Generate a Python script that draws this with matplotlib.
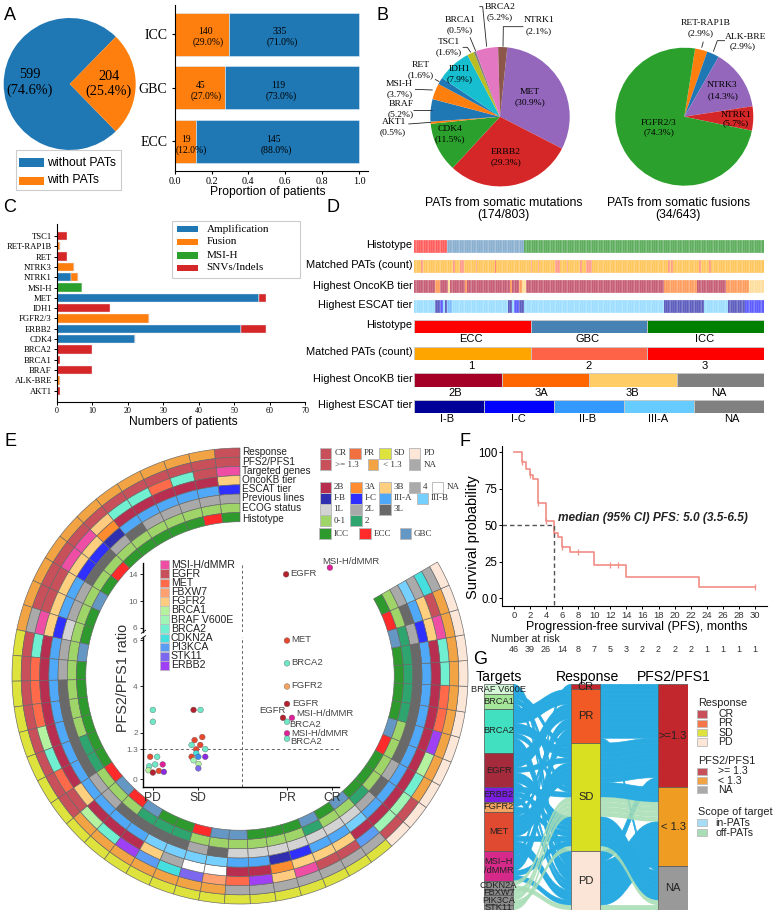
import numpy as np
import matplotlib
matplotlib.use("Agg")
import matplotlib.pyplot as plt
from matplotlib.colors import ListedColormap
from matplotlib.patches import Rectangle, PathPatch
from matplotlib.path import Path

SANS = "Liberation Sans"
SERIF = "Liberation Serif"
plt.rcParams["font.family"] = SANS

W, H = 777, 917

# ---- Panel A
pie_a_vals = [599, 204]
hist_names = ["ECC", "GBC", "ICC"]
with_pats = [19, 45, 140]
without_pats = [145, 119, 335]

# ---- Panel B
mut_names = ["MET", "ERBB2", "CDK4", "AKT1", "BRAF", "MSI-H", "RET", "IDH1", "TSC1", "BRCA1", "BRCA2", "NTRK1"]
mut_vals = [30.9, 29.3, 11.5, 0.5, 5.2, 3.7, 1.6, 7.9, 1.6, 0.5, 5.2, 2.1]
mut_cols = ["#9467bd", "#d62728", "#2ca02c", "#ff7f0e", "#1f77b4", "#ff7f0e", "#1f77b4", "#17becf", "#bcbd22", "#7f7f7f", "#e377c2", "#8c564b"]
fus_names = ["RET-RAP1B", "ALK-BRE", "NTRK3", "NTRK1", "FGFR2/3"]
fus_vals = [2.9, 2.9, 14.3, 5.7, 74.3]
fus_cols = ["#ff7f0e", "#1f77b4", "#9467bd", "#d62728", "#2ca02c"]

# ---- Panel C
c_genes = ["AKT1", "ALK-BRE", "BRAF", "BRCA1", "BRCA2", "CDK4", "ERBB2", "FGFR2/3", "IDH1", "MET", "MSI-H", "NTRK1", "NTRK3", "RET", "RET-RAP1B", "TSC1"]
c_amp = [0, 0, 0, 0, 0, 22, 52, 0, 0, 57, 0, 4, 0, 0, 0, 0]
c_fus = [0, 1, 0, 0, 0, 0, 0, 26, 0, 0, 0, 2, 5, 0, 1, 0]
c_msi = [0, 0, 0, 0, 0, 0, 0, 0, 0, 0, 7, 0, 0, 0, 0, 0]
c_snv = [1, 0, 10, 1, 10, 0, 7, 0, 15, 2, 0, 0, 0, 3, 0, 3]

# ---- Panel D (run lengths over 204 patients)
d_hist_cats = ["ECC", "GBC", "ICC"]
d_hist_runs = [19, 45, 140]
d_two_cols = [4, 23, 27, 28, 36, 68, 72, 82, 83, 84, 89, 97, 100, 101, 102, 103, 148, 150, 166, 172]
d_three_cols = [47]
d_onco_cats = ["2B", "3A", "2B", "3B", "2B", "3A", "2B", "3A", "2B", "3A", "3B", "2B", "3A", "2B", "3A", "3B"]
d_onco_runs = [12, 3, 5, 1, 9, 1, 25, 1, 4, 2, 2, 81, 19, 17, 13, 9]
d_escat_cats = ["III-A", "I-B", "I-C", "III-A", "I-B", "II-B", "III-A", "I-B", "III-A", "I-C", "I-B", "III-A", "I-B", "III-A", "I-B", "I-C"]
d_escat_runs = [12, 3, 2, 1, 1, 3, 33, 2, 1, 3, 3, 82, 23, 14, 10, 11]

# ---- Panel E (46 patients, counter-clockwise from the top)
e_response = ["CR"] + ["PR"] * 11 + ["SD"] * 22 + ["PD"] * 12
e_pfs = [">=1.3"] * 11 + ["NA"] + [">=1.3"] * 8 + ["<1.3"] * 7 + ["NA"] * 7 + [">=1.3"] * 2 + ["<1.3"] * 9 + ["NA"]
e_target = ["MSI-H/dMMR", "EGFR", "BRCA2", "MET", "BRCA2", "BRCA2", "FGFR2", "MSI-H/dMMR", "MSI-H/dMMR", "EGFR",
            "EGFR", "MSI-H/dMMR", "BRCA2", "MET", "MET", "MET", "BRCA1", "BRCA2", "MET", "EGFR",
            "BRCA1", "BRCA2", "ERBB2", "PI3KCA", "CDKN2A", "STK11", "FBXW7", "MET", "ERBB2", "FGFR2",
            "MSI-H/dMMR", "EGFR", "EGFR", "PI3KCA", "BRAF V600E", "BRAF V600E", "BRCA2", "BRCA1", "ERBB2", "MET",
            "MET", "BRCA2", "BRCA2", "MSI-H/dMMR", "EGFR", "CDKN2A"]
e_onco = ["3B"] + ["2B"] * 5 + ["3A"] + ["3B"] * 5 + ["2B"] * 7 + ["3B"] + ["2B"] * 3 + ["3B", "4", "NA", "NA", "2B", "2B", "3A", "3B", "3B", "3B"] + ["2B"] * 10 + ["3B", "3B", "4"]
e_escat = ["I-C"] + ["III-A"] * 5 + ["I-B", "I-C", "I-C", "III-A", "III-A", "I-C"] + ["III-A"] * 11 + ["III-B"] * 4 + ["III-A", "III-A", "I-B", "I-C", "III-A", "III-A", "III-B"] + ["III-A"] * 9 + ["I-C", "III-A", "III-B"]
e_prev = ["2L"] * 5 + ["3L", "2L", "3L", "3L", "2L", "2L", "1L", "2L", "2L"] + ["3L"] * 5 + ["2L", "2L"] + ["3L"] * 4 + ["2L", "3L"] + ["1L"] * 7 + ["2L", "3L", "2L"] + ["3L"] * 6 + ["2L", "3L", "2L"]
e_ecog = ["0-1"] * 17 + ["2", "2", "0-1", "0-1", "0-1", "2", "2", "2"] + ["0-1"] * 6 + ["2", "0-1", "0-1", "2"] + ["0-1"] * 4 + ["2"] * 5 + ["0-1", "0-1"]
e_hist = ["ICC", "ECC"] + ["ICC"] * 5 + ["ECC", "ICC", "GBC", "ICC", "ICC", "GBC"] + ["ICC"] * 6 + ["ECC", "GBC", "ECC", "GBC", "ICC", "ICC", "ECC", "GBC", "GBC", "ICC", "ICC", "ICC", "GBC", "ICC", "GBC", "ICC", "ICC", "ICC", "ECC", "GBC", "ICC", "ICC", "ICC", "ICC", "GBC", "ECC", "ICC"]

# scatter inside panel E
sc_x = [0, 0, -0.06, 0.096, -0.083, 0.051, 0.22, -0.098, 0, 0.134, 0.246,
        0.91, 1.067, 1.105, 0.933, 0.866, 1.06, 0.97, 1.172, 0.97, 0.866, 1.016, 1.172, 0.91, 1.022, 1.016,
        3.96, 2.98, 3, 3, 3, 3, 2.91, 3.11, 3, 3, 3]
sc_y = [2.99, 2.48, 0.97, 0.97, 0.56, 0.64, 0.64, 0.39, 0.29, 0.36, 0.32,
        2.99, 2.99, 1.82, 1.69, 1.48, 1.48, 1.29, 1.3, 1.12, 0.97, 0.97, 0.97, 0.82, 0.66, 0.47,
        15.0, 14.0, 5.98, 5.0, 4.0, 3.25, 2.65, 2.65, 2.48, 1.98, 1.75]
sc_t = ["BRCA2", "BRCA2", "MET", "BRCA2", "BRCA2", "BRCA2", "MSI-H/dMMR", "BRCA1", "EGFR", "MET", "ERBB2",
        "EGFR", "BRCA2", "MET", "MET", "BRCA2", "MET", "MET", "BRCA2", "CDKN2A", "MET", "PI3KCA", "ERBB2", "BRAF V600E", "BRCA1", "STK11",
        "MSI-H/dMMR", "EGFR", "MET", "BRCA2", "FGFR2", "EGFR", "EGFR", "MSI-H/dMMR", "BRCA2", "MSI-H/dMMR", "BRCA2"]
sc_legend = ["MSI-H/dMMR", "EGFR", "MET", "FBXW7", "FGFR2", "BRCA1", "BRAF V600E", "BRCA2", "CDKN2A", "PI3KCA", "STK11", "ERBB2"]

# ---- Panel F
km_t = [0, 1, 1.45, 1.95, 2.4, 2.95, 4, 5, 5.5, 6, 7, 10, 14, 23, 30]
km_s = [100, 93.2, 88.6, 84.5, 81.5, 65, 53, 44.5, 41.8, 35.4, 31.8, 22.8, 14.8, 7.5, 7.5]
cens_t = [1, 2, 3, 4, 5, 6, 8, 12, 13, 30]
cens_s = [93.2, 84.5, 65, 53, 44.5, 35.4, 31.8, 22.8, 22.8, 7.5]
risk_t = list(range(0, 31, 2))
risk_n = [46, 39, 26, 14, 8, 7, 5, 3, 2, 2, 2, 2, 1, 1, 1, 1]

# ---- Colours
COL_RESP = {"CR": "#C8505A", "PR": "#F2A444", "SD": "#DDE23C", "PD": "#FBE6D8"}
COL_PFS = {">=1.3": "#C8505A", "<1.3": "#F2A444", "NA": "#AAAAAA"}
COL_TGT = {"MSI-H/dMMR": "#EE4FA5", "EGFR": "#C8505A", "MET": "#FF6B4A", "FBXW7": "#FFA070", "FGFR2": "#FFCB80",
           "BRCA1": "#B5F2A0", "BRAF V600E": "#A0F5B5", "BRCA2": "#70F0D0", "CDKN2A": "#45DFE0", "PI3KCA": "#5B9CF5",
           "STK11": "#7B68EE", "ERBB2": "#A040F5"}
COL_ONCO = {"2B": "#B82E50", "3A": "#FF8C2E", "3B": "#FFCF80", "4": "#AAAAAA", "NA": "#FFFFFF"}
COL_ESCAT = {"I-B": "#2F2FB0", "I-C": "#2F2FFF", "III-A": "#4FA8F8", "III-B": "#75CFFF"}
COL_PREV = {"1L": "#D3D3D3", "2L": "#A9A9A9", "3L": "#696969"}
COL_ECOG = {"0-1": "#9FD468", "2": "#2EA56E"}
COL_HIST = {"ICC": "#2E9A2E", "ECC": "#FF2A2A", "GBC": "#6497C4"}

fig = plt.figure(figsize=(W / 100, H / 100), dpi=100)


def px_axes(x0, y0, x1, y1, **kw):
    return fig.add_axes([x0 / W, 1 - y1 / H, (x1 - x0) / W, (y1 - y0) / H], **kw)


ov = fig.add_axes([0, 0, 1, 1], zorder=20)
ov.set_xlim(0, W)
ov.set_ylim(H, 0)
ov.axis("off")
ov.patch.set_alpha(0)


def T(x, y, s, size=7, ha="center", va="center", fam=SANS, **kw):
    ov.text(x, y, s, fontsize=size, ha=ha, va=va, family=fam, **kw)


def L(xs, ys, **kw):
    ov.plot(xs, ys, color=kw.pop("color", "#222222"), lw=kw.pop("lw", 0.6), solid_capstyle="butt", **kw)


def box(x0, y0, x1, y1, fc, ec="#BBBBBB", lw=0.6, alpha=None):
    ov.add_patch(Rectangle((x0, y0), x1 - x0, y1 - y0, facecolor=fc, edgecolor=ec, lw=lw, alpha=alpha))


for s, x, y in [("A", 10, 15), ("B", 383, 15), ("C", 10, 208), ("D", 333, 208), ("E", 10, 442), ("F", 465, 441), ("G", 480, 660)]:
    T(x, y, s, size=13)

# ---- A
ax = px_axes(3.7, 18, 135.7, 150)
ax.pie(pie_a_vals, colors=["#1f77b4", "#ff7f0e"], startangle=45.7, radius=1)
ax.set_xlim(-1, 1)
ax.set_ylim(-1, 1)
T(30, 75, "599", 10.3, fam=SERIF)
T(30, 90.7, "(74.6%)", 10.3, fam=SERIF)
T(109, 76.7, "204", 10.3, fam=SERIF)
T(109, 91, "(25.4%)", 10.3, fam=SERIF)
box(16, 150, 120.7, 190, "white", ec="#CCCCCC", lw=0.8)
ov.add_patch(Rectangle((19, 158), 25.3, 9, fc="#1f77b4"))
ov.add_patch(Rectangle((19, 176.7), 25.3, 8.6, fc="#ff7f0e"))
T(46.7, 162.7, "without PATs", 8.8, ha="left")
T(46.7, 180.3, "with PATs", 8.8, ha="left")

ax = px_axes(174.7, 5, 368, 170.7)
pos = np.arange(3)
tot = np.array(with_pats) + np.array(without_pats)
frac_w = np.array(with_pats) / tot
ax.barh(pos, frac_w, height=0.8, color="#ff7f0e", edgecolor="#DDEEFF", lw=0.4)
ax.barh(pos, 1 - frac_w, left=frac_w, height=0.8, color="#1f77b4", edgecolor="#DDEEFF", lw=0.4)
ax.set_xlim(0, 1.049)
ax.set_ylim(-0.544, 2.54)
ax.set_yticks(pos, hist_names, family=SERIF, fontsize=10)
ax.set_xticks(np.arange(0, 1.01, 0.2))
ax.tick_params(axis="x", labelsize=7.3, pad=2, length=2.5, width=0.8)
ax.tick_params(axis="y", pad=3, length=2.5, width=0.8)
for lab in ax.get_xticklabels():
    lab.set_family(SERIF)
for s in ("top", "right"):
    ax.spines[s].set_visible(False)
T(267.5, 191.7, "Proportion of patients", 8.7)
a_rows = [(31, 42, "140", "(29.0%)", 205, 207.7, "335", "(71.0%)", 279.3, 282),
          (85, 96, "45", "(27.0%)", 201, 206, "119", "(73.0%)", 278.7, 281.3),
          (139, 150, "19", "(12.0%)", 186, 191, "145", "(88.0%)", 273.7, 276.3)]
for y0, y1, a, b, xa, xb, c, d, xc, xd in a_rows:
    T(xa, y0, a, 6.9, fam=SERIF)
    T(xb, y1, b, 6.9, fam=SERIF)
    T(xc, y0, c, 6.9, fam=SERIF)
    T(xd, y1, d, 6.9, fam=SERIF)

# ---- B
ax = px_axes(430.3, 47, 569.7, 186.4)
ax.pie(mut_vals, colors=mut_cols, startangle=84, counterclock=False, wedgeprops=dict(lw=0))
ax.set_xlim(-1, 1)
ax.set_ylim(-1, 1)
ax = px_axes(615.3, 47.7, 753.3, 185.7)
ax.pie(fus_vals, colors=fus_cols, startangle=81, counterclock=False, wedgeprops=dict(lw=0))
ax.set_xlim(-1, 1)
ax.set_ylim(-1, 1)

b_lab = [("MET", "(30.9%)", 530, 91.7, 530, 102), ("ERBB2", "(29.3%)", 506, 151.7, 506, 162),
         ("CDK4", "(11.5%)", 450, 129.3, 450, 139.3), ("IDH1", "(7.9%)", 459.7, 69.3, 460, 79.3),
         ("AKT1", "(0.5%)", 393.7, 122, 393, 131.7), ("BRAF", "(5.2%)", 400.7, 104.3, 400.7, 114.3),
         ("MSI-H", "(3.7%)", 399.3, 84, 400, 94.3), ("RET", "(1.6%)", 420.7, 64.7, 421, 74.7),
         ("TSC1", "(1.6%)", 448.7, 41.7, 449, 51.7), ("BRCA1", "(0.5%)", 460, 20, 460, 30),
         ("BRCA2", "(5.2%)", 499.7, 6.7, 499.7, 16.7), ("NTRK1", "(2.1%)", 539.3, 20, 538.3, 30.7),
         ("RET-RAP1B", "(2.9%)", 705.7, 23.3, 700.7, 33.3), ("ALK-BRE", "(2.9%)", 745.7, 37.3, 743, 45.7),
         ("NTRK3", "(14.3%)", 722, 85.3, 722.7, 95.7), ("NTRK1", "(5.7%)", 736, 115, 736, 123.3),
         ("FGFR2/3", "(74.3%)", 658.3, 122.7, 659, 132.3)]
for a, b, x1, y1, x2, y2 in b_lab:
    T(x1, y1, a, 6.8, fam=SERIF)
    T(x2, y2, b, 6.8, fam=SERIF)
b_lines = [((298, 308, 320), (20, 20, 140)), ((430, 370, 369), (80, 80, 140)), ((270, 287), (112, 153)),
           ((248, 262, 272), (142, 142, 157)), ((165, 178), (238, 245)), ((105, 158), (268, 270)),
           ((100, 155), (330, 330)), ((85, 153), (372, 367)), ((965, 970), (143, 125)), ((1035, 1012, 1000), (122, 122, 155))]
for xs, ys in b_lines:
    L([380 + v / 3 for v in xs], [v / 3 for v in ys])
T(503.3, 203.3, "PATs from somatic mutations", 8.8)
T(503.3, 215, "(174/803)", 8.8)
T(678.3, 203.3, "PATs from somatic fusions", 8.8)
T(678.3, 215, "(34/643)", 8.8)

# ---- C
ax = px_axes(56.7, 224, 305, 401.7)
pos = np.arange(len(c_genes))
left = np.zeros(len(c_genes))
for vals, col in zip([c_amp, c_fus, c_msi, c_snv], ["#1f77b4", "#ff7f0e", "#2ca02c", "#d62728"]):
    ax.barh(pos, vals, left=left, height=0.8, color=col, edgecolor="#E8E8F0", lw=0.3)
    left += np.array(vals)
ax.set_xlim(0, 70)
ax.set_ylim(-1.067, 16.16)
ax.set_yticks(pos, c_genes, family=SERIF, fontsize=6.2)
ax.set_xticks(range(0, 71, 10))
ax.tick_params(axis="x", labelsize=5.8, length=2, width=0.7, pad=1.5)
ax.tick_params(axis="y", length=2, width=0.7, pad=1.5)
for lab in ax.get_xticklabels():
    lab.set_family(SERIF)
for s in ("top", "right"):
    ax.spines[s].set_visible(False)
T(183, 422, "Numbers of patients", 8.7)
box(172, 221, 300, 278, "white", ec="#CCCCCC", lw=0.8)
for y, name, col in [(229, "Amplification", "#1f77b4"), (242, "Fusion", "#ff7f0e"), (255.3, "MSI-H", "#2ca02c"), (268, "SNVs/Indels", "#d62728")]:
    ov.add_patch(Rectangle((176.7, y - 3.4), 21.6, 6.8, fc=col))
    T(206.7, y, name, 8, ha="left", fam=SERIF)

# ---- D
D_COL = {"ECC": "#FF0000", "GBC": "#4682B4", "ICC": "#008000",
         "1": "#FFA500", "2": "#FF6347", "3": "#FF0000",
         "2B": "#A50026", "3A": "#FF6600", "3B": "#FFCC66", "NA": "#808080",
         "I-B": "#000099", "I-C": "#0000FF", "II-B": "#3399FF", "III-A": "#66CCFF"}


def strip(y0, y1, labels, edge="white", lw=0.25, alpha=0.72):
    cats = list(dict.fromkeys(labels))
    codes = np.array([[cats.index(v) for v in labels]])
    a = px_axes(414, y0, 764, y1)
    a.pcolormesh(codes, cmap=ListedColormap([D_COL[c] for c in cats]), vmin=-0.5, vmax=len(cats) - 0.5,
                 edgecolors=edge, linewidth=lw, antialiased=True, alpha=alpha)
    a.axis("off")


matched = ["1"] * sum(d_hist_runs)
for c in d_two_cols:
    matched[c] = "2"
for c in d_three_cols:
    matched[c] = "3"
strip(240, 252.7, list(np.repeat(d_hist_cats, d_hist_runs)))
strip(260, 273, matched)
strip(280, 292.7, list(np.repeat(d_onco_cats, d_onco_runs)))
strip(300, 313, list(np.repeat(d_escat_cats, d_escat_runs)))
strip(320, 333, ["ECC", "GBC", "ICC"], edge="#C8C8C8", lw=0.6, alpha=1)
strip(346.7, 360, ["1", "2", "3"], edge="#C8C8C8", lw=0.6, alpha=1)
strip(373.3, 386.7, ["2B", "3A", "3B", "NA"], edge="#C8C8C8", lw=0.6, alpha=1)
strip(400, 413, ["I-B", "I-C", "II-B", "III-A", "NA"], edge="#C8C8C8", lw=0.6, alpha=1)
for y, s in [(245, "Histotype"), (265, "Matched PATs (count)"), (285.7, "Highest OncoKB tier"), (305, "Highest ESCAT tier"),
             (324.7, "Histotype"), (351.7, "Matched PATs (count)"), (378.7, "Highest OncoKB tier"), (405, "Highest ESCAT tier")]:
    T(412.3, y, s, 7.9, ha="right")
for y, items in [(339, [("ECC", 470.7), ("GBC", 588), ("ICC", 704.3)]),
                 (365.7, [("1", 471), ("2", 589), ("3", 705)]),
                 (392.7, [("2B", 455.7), ("3A", 541.7), ("3B", 632), ("NA", 719)]),
                 (419, [("I-B", 446.7), ("I-C", 518), ("II-B", 588), ("III-A", 658), ("NA", 731.7)])]:
    for s, x in items:
        T(x, y, s, 8)

# ---- E rings
cx, cy, rmax = 240, 676, 232
pol = px_axes(cx - rmax, cy - rmax, cx + rmax, cy + rmax, projection="polar")
pol.set_ylim(0, rmax)
pol.axis("off")
pol.patch.set_alpha(0)
tracks = [(e_response, COL_RESP), (e_pfs, COL_PFS), (e_target, COL_TGT), (e_onco, COL_ONCO),
          (e_escat, COL_ESCAT), (e_prev, COL_PREV), (e_ecog, COL_ECOG), (e_hist, COL_HIST)]
step = np.deg2rad(300 / 46)
track_h = 9.22
for k, (vals, cmap) in enumerate(tracks):
    thetas = np.pi / 2 + step * (np.arange(len(vals)) + 0.5)
    bottom = 228 - track_h * (k + 1)
    pol.bar(thetas, track_h, width=step, bottom=bottom, color=[cmap[v] for v in vals], edgecolor="#666666", linewidth=0.45)

for y, s in [(451.7, "Response"), (461.7, "PFS2/PFS1"), (471.3, "Targeted genes"), (480, "OncoKB tier"), (489, "ESCAT tier"),
             (498, "Previous lines"), (507.7, "ECOG status"), (519, "Histotype")]:
    T(241.7, y, s, 7.2, ha="left", color="#222222")


def leg(z0, z1, zy, col, text, tx, h=32):
    x0 = 230 + z0 / 3
    x1 = 230 + z1 / 3
    y = 430 + zy / 3
    box(x0, y - h / 6, x1, y + h / 6, col, ec="#BBBBBB", lw=0.7)
    T(230 + tx / 3, y, text, 6.5, ha="left", fam=SERIF, color="#333333")


for a, b, y, c, t, x in [
    (270, 303, 70, "#C8505A", "CR", 313), (358, 392, 70, "#F07040", "PR", 400), (447, 482, 70, "#DDE23C", "SD", 490), (537, 570, 70, "#FBE6D8", "PD", 580),
    (270, 303, 104, "#C8505A", ">= 1.3", 315), (413, 445, 104, "#F2A444", "< 1.3", 458), (537, 570, 104, "#AAAAAA", "NA", 580),
    (270, 303, 172, COL_ONCO["2B"], "2B", 310), (360, 395, 172, COL_ONCO["3A"], "3A", 403), (448, 482, 172, COL_ONCO["3B"], "3B", 490), (537, 570, 172, COL_ONCO["4"], "4", 580), (607, 640, 172, "#FFFFFF", "NA", 650),
    (270, 303, 205, COL_ESCAT["I-B"], "I-B", 310), (360, 395, 205, COL_ESCAT["I-C"], "I-C", 403), (448, 482, 205, COL_ESCAT["III-A"], "III-A", 490), (560, 593, 205, COL_ESCAT["III-B"], "III-B", 602),
    (270, 303, 238, COL_PREV["1L"], "1L", 310), (360, 395, 238, COL_PREV["2L"], "2L", 403), (448, 482, 238, COL_PREV["3L"], "3L", 490),
    (270, 303, 272, COL_ECOG["0-1"], "0-1", 310), (360, 395, 272, COL_ECOG["2"], "2", 403),
    (268, 302, 311, COL_HIST["ICC"], "ICC", 310), (388, 422, 311, COL_HIST["ECC"], "ECC", 432), (510, 543, 311, COL_HIST["GBC"], "GBC", 552),
]:
    leg(a, b, y, c, t, x)

# ---- E scatter
SC_COL = dict(COL_TGT)
SC_COL.update({"EGFR": "#B5202E", "MET": "#E8472E", "BRCA2": "#6FE8C8", "MSI-H/dMMR": "#E0209A", "ERBB2": "#8A2BE2", "PI3KCA": "#3C8CF0", "FGFR2": "#F4A460"})
sc_col = np.array([SC_COL[t] for t in sc_t])
sc_xa = np.array(sc_x)
sc_ya = np.array(sc_y)
xlim = (-0.214, 4.17)
low = px_axes(143.3, 637.3, 339.3, 786.7)
up = px_axes(143.3, 562.7, 339.3, 631.7)
for a, mask in ((low, sc_ya <= 6), (up, sc_ya > 6)):
    a.patch.set_alpha(0)
    a.set_xlim(*xlim)
    for s in ("top", "right"):
        a.spines[s].set_visible(False)
    a.axvline(2, color="#666666", lw=0.7, ls=(0, (3, 2.5)))
    a.scatter(sc_xa[mask], sc_ya[mask], s=17, c=list(sc_col[mask]), edgecolors="#555555", linewidths=0.25, zorder=3, clip_on=True)
    a.spines["left"].set_linewidth(1.0)
low.set_ylim(-0.32, 6.12)
up.set_ylim(5.4, 15.74)
up.spines["bottom"].set_visible(False)
up.set_xticks([])
low.axhline(1.3, color="#666666", lw=0.7, ls=(0, (3, 2.5)))
low.spines["bottom"].set_linewidth(1.0)
low.set_yticks([0, 1.3, 2, 4, 6], ["0", "1.3", "2", "4", "6"])
up.set_yticks([6, 10, 14], ["6", "10", "14"])
low.set_xticks([0, 1, 3, 4], ["PD", "SD", "PR", "CR"])
low.tick_params(axis="x", labelsize=8.7, labelcolor="#333333", length=2, width=0.6, pad=2)
for a in (low, up):
    a.tick_params(axis="y", labelsize=6, labelcolor="#666666", length=2, width=0.6, pad=2)
L([141, 146], [633.5, 630], lw=0.7)
L([141, 146], [639, 635.5], lw=0.7)
T(123, 678, "PFS2/PFS1 ratio", 10.4, rotation=90, color="#333333")
for s, x, y in [("MSI-H/dMMR", 322.7, 561), ("EGFR", 290.7, 573.3), ("MET", 291, 639), ("BRCA2", 291.3, 662.3), ("FGFR2", 291.3, 685.3),
                ("EGFR", 292.7, 703.3), ("EGFR", 259, 710.7), ("MSI-H/dMMR", 296.7, 713.7), ("BRCA2", 289, 724.3),
                ("MSI-H/dMMR", 291.3, 733.3), ("BRCA2", 290, 741.7)]:
    T(x, y, s, 6.8, ha="left", color="#444444")
for i, name in enumerate(sc_legend):
    y = 564.7 + 9.15 * i
    box(160, y - 4.4, 169.3, y + 4.4, COL_TGT[name], ec="#BBBBBB", lw=0.5)
    T(170.7, y, name, 7.6, ha="left", color="#222222")

# ---- F
ax = px_axes(501.7, 446, 766.7, 605.7)
ax.step(km_t, km_s, where="post", color="#F28E86", lw=1.2)
ax.plot(cens_t, cens_s, ls="none", marker="|", ms=5, mew=0.9, color="#F28E86")
ax.plot([-1.53, 5, 5], [50, 50, -5.07], color="#555555", lw=1.0, ls=(0, (3.2, 2.2)))
ax.set_xlim(-1.53, 31.47)
ax.set_ylim(-5.07, 104.3)
ax.set_xticks(risk_t)
ax.set_yticks([0, 25, 50, 75, 100], ["0.0", "25", "50", "75", "100"])
ax.tick_params(axis="y", labelsize=8.3, length=2, width=0.7, pad=1)
ax.tick_params(axis="x", labelsize=6.8, length=2, width=0.7, pad=2, labelcolor="#333333")
for s in ("top", "right"):
    ax.spines[s].set_visible(False)
T(473, 536.7, "Survival probability", 10.5, rotation=90)
T(636.7, 627.3, "Progression-free survival (PFS), months", 8.9)
T(558, 518, "median (95% CI) PFS: 5.0 (3.5-6.5)", 8.6, ha="left", fontweight="bold", fontstyle="italic", color="#222222")
T(490.7, 638.7, "Number at risk", 7.6, ha="left", color="#222222")
for t, n_risk in zip(risk_t, risk_n):
    T(514 + 8.03 * t, 649, str(n_risk), 6.5, color="#333333")

# ---- G
tgt_order = ["BRAF V600E", "BRCA1", "BRCA2", "EGFR", "ERBB2", "FGFR2", "MET", "MSI-H/dMMR", "CDKN2A", "FBXW7", "PI3KCA", "STK11"]
resp_order = ["CR", "PR", "SD", "PD"]
pfs_order = [">=1.3", "<1.3", "NA"]
off_pats = ["CDKN2A", "FBXW7", "PI3KCA", "STK11"]
G_TGT = {"BRAF V600E": "#D4F7D8", "BRCA1": "#A5E59A", "BRCA2": "#40E0C0", "EGFR": "#A52A3C", "ERBB2": "#7A1FE0", "FGFR2": "#F4A460",
         "MET": "#E04A30", "MSI-H/dMMR": "#D62A8A", "CDKN2A": "#8C8C8C", "FBXW7": "#8C8C8C", "PI3KCA": "#8C8C8C", "STK11": "#8C8C8C"}
G_RESP = {"CR": "#C1272D", "PR": "#F15A24", "SD": "#D9E021", "PD": "#FBE5D6"}
G_PFS = {">=1.3": "#C1272D", "<1.3": "#EE9C22", "NA": "#999999"}
n = len(e_target)
scope = [1 if t in off_pats else 0 for t in e_target]
ti = [tgt_order.index(t) for t in e_target]
ri = [resp_order.index(t) for t in e_response]
pi_ = [pfs_order.index(t) for t in e_pfs]
ord_t = sorted(range(n), key=lambda i: (ti[i], ri[i], pi_[i], i))
ord_r = sorted(range(n), key=lambda i: (ri[i], pi_[i], scope[i], ti[i], i))
ord_p = sorted(range(n), key=lambda i: (pi_[i], ri[i], scope[i], ti[i], i))
y_t = {p: k for k, p in enumerate(ord_t)}
y_r = {p: k for k, p in enumerate(ord_r)}
y_p = {p: k for k, p in enumerate(ord_p)}
ax = px_axes(484, 684.3, 687.7, 910)
ax.set_xlim(-0.168, 2.168)
ax.set_ylim(n, 0)
ax.axis("off")
hw = 0.168


def flow(x0, y0, x1, y1, col, alpha, z, edge):
    xm = (x0 + x1) / 2
    verts = [(x0, y0), (xm, y0), (xm, y1), (x1, y1), (x1, y1 + 1), (xm, y1 + 1), (xm, y0 + 1), (x0, y0 + 1), (x0, y0)]
    codes = [Path.MOVETO, Path.CURVE4, Path.CURVE4, Path.CURVE4, Path.LINETO, Path.CURVE4, Path.CURVE4, Path.CURVE4, Path.CLOSEPOLY]
    ax.add_patch(PathPatch(Path(verts, codes), facecolor=col, edgecolor=col if edge else "none", lw=0.5 if edge else 0, alpha=alpha, zorder=z))


for i in range(n):
    col, alpha, z, edge = ("#A8DDB5", 0.88, 2, False) if scope[i] else ("#29ABE2", 1.0, 1, True)
    flow(0 + hw, y_t[i], 1 - hw, y_r[i], col, alpha, z, edge)
    flow(1 + hw, y_r[i], 2 - hw, y_p[i], col, alpha, z, edge)


def column(xc, names, indices, cols, labels=None):
    start = 0
    for k, name in enumerate(names):
        c = sum(1 for v in indices if v == k)
        ax.add_patch(Rectangle((xc - hw, start), 2 * hw, c, facecolor=cols[name], edgecolor="#555555", lw=0.5, zorder=4))
        lab = (labels or {}).get(name, name)
        ax.text(xc, start + c / 2, lab, ha="center", va="center", fontsize=6.7 if xc == 0 else 8, zorder=5, color="#222222", linespacing=1.0)
        start += c


column(0, tgt_order, ti, G_TGT, {"MSI-H/dMMR": "MSI\u2212H\n/dMMR", "PI3KCA": "PIK3CA"})
column(1, resp_order, ri, G_RESP)
column(2, pfs_order, pi_, G_PFS, {">=1.3": ">=1.3", "<1.3": "< 1.3"})
T(498.7, 677.3, "Targets", 10.1)
T(587.7, 677.3, "Response", 10.1)
T(673.3, 677.3, "PFS2/PFS1", 10.1)


def gleg(zx, zy, col, text, tx):
    x = 460 + zx / 3
    y = 670 + zy / 3
    box(x, y - 3.8, x + 10, y + 3.8, col, ec="#BBBBBB", lw=0.6)
    T(460 + tx / 3, y, text, 7.6, ha="left", color="#222222")


T(460 + 713 / 3, 670 + 100 / 3, "Response", 7.8, ha="left", color="#222222")
for zy, c, t in [(132, "#C8505A", "CR"), (160, "#F4764A", "PR"), (188, "#DDE23C", "SD"), (216, "#FBE6D8", "PD")]:
    gleg(711, zy, c, t, 775)
T(460 + 713 / 3, 670 + 273 / 3, "PFS2/PFS1", 7.8, ha="left", color="#222222")
for zy, c, t in [(304, "#C8505A", ">= 1.3"), (332, "#F2A444", "< 1.3"), (359, "#AAAAAA", "NA")]:
    gleg(711, zy, c, t, 773)
T(460 + 713 / 3, 670 + 425 / 3, "Scope of target", 7.8, ha="left", color="#222222")
for zy, c, t in [(458, "#A6DCF5", "in-PATs"), (488, "#A8DDB5", "off-PATs")]:
    gleg(711, zy, c, t, 765)

fig.savefig("out.png", dpi=100)
